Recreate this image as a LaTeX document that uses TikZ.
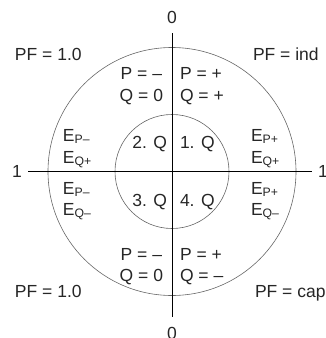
\documentclass[tikz,border=0pt]{standalone}
\usepackage{fontspec}
\setmainfont{Liberation Sans}
\usepackage{tikz}
\usetikzlibrary{calc}
\tikzset{
    lbl/.style={inner sep=0pt, outer sep=0pt, font=\fontsize{17.5}{21}\selectfont, text=black!85},
    axis/.style={draw=black, line width=0.85pt},
    ring/.style={draw=black!60, line width=0.6pt}
}
\newcommand*{\esub}[2]{E\textsubscript{#1#2}}

\begin{document}
\begin{tikzpicture}[x=1pt, y=-1pt]

            \useasboundingbox (0, 0) rectangle (326, 338);

            \coordinate (o) at (172, 171.5);
            \coordinate (top) at (172, 33);
            \coordinate (bot) at (172, 317);
            \coordinate (west) at (28, 171.5);
            \coordinate (east) at (312, 171.5);

            \draw[ring] (o) circle[radius=124pt];
            \draw[ring] (o) circle[radius=57pt];

            \draw[axis] (top) -- (bot);
            \draw[axis] (west) -- (east);

            \node[lbl, anchor=base] (zeroT) at (172, 23) {0};
            \node[lbl, anchor=base] (zeroB) at (172, 339) {0};
            \node[lbl, anchor=base] (oneL) at (17, 177.5) {1};
            \node[lbl, anchor=base] (oneR) at (323, 177.5) {1};

            \node[lbl, anchor=base west] (pfTL) at (15, 60) {PF = 1.0};
            \node[lbl, anchor=base west] (pfTR) at (253, 60) {PF = ind};
            \node[lbl, anchor=base west] (pfBL) at (15, 297) {PF = 1.0};
            \node[lbl, anchor=base west] (pfBR) at (255, 297) {PF = cap};

            \node[lbl, anchor=base east] (pTL) at (162, 79) {P = –};
            \node[lbl, anchor=base east] (qTL) at (163, 101) {Q = 0};
            \node[lbl, anchor=base west] (pTR) at (180, 79) {P = +};
            \node[lbl, anchor=base west] (qTR) at (180, 101) {Q = +};
            \node[lbl, anchor=base east] (pBL) at (162, 260) {P = –};
            \node[lbl, anchor=base east] (qBL) at (163, 281) {Q = 0};
            \node[lbl, anchor=base west] (pBR) at (180, 260) {P = +};
            \node[lbl, anchor=base west] (qBR) at (180, 281) {Q = –};

            \node[lbl, anchor=base east] (quad2) at (167, 148.5) {2. Q};
            \node[lbl, anchor=base west] (quad1) at (180, 148.5) {1. Q};
            \node[lbl, anchor=base east] (quad3) at (167, 206) {3. Q};
            \node[lbl, anchor=base west] (quad4) at (180, 206) {4. Q};

            \node[lbl, anchor=base west] (ePL1) at (63, 141) {\esub{P}{–}};
            \node[lbl, anchor=base west] (eQL1) at (63, 163) {\esub{Q}{+}};
            \node[lbl, anchor=base west] (ePL2) at (63, 194) {\esub{P}{–}};
            \node[lbl, anchor=base west] (eQL2) at (63, 215) {\esub{Q}{–}};

            \node[lbl, anchor=base west] (ePR1) at (251, 141) {\esub{P}{+}};
            \node[lbl, anchor=base west] (eQR1) at (251, 163) {\esub{Q}{+}};
            \node[lbl, anchor=base west] (ePR2) at (251, 194) {\esub{P}{+}};
            \node[lbl, anchor=base west] (eQR2) at (251, 215) {\esub{Q}{–}};
        \end{tikzpicture}
\end{document}
